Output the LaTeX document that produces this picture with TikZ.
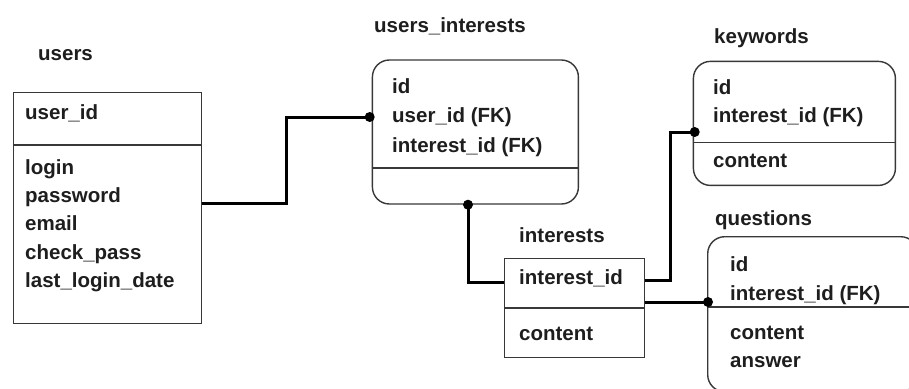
\documentclass[tikz,border=0pt]{standalone}
\usepackage{fontspec}
\setmainfont{Liberation Sans}
\usetikzlibrary{calc}
\definecolor{ink}{HTML}{1E1E1E}
\definecolor{edge}{HTML}{383838}
\begin{document}
\begin{tikzpicture}[x=1pt,y=-1pt,
  txt/.style={anchor=base west,inner sep=0pt,text=ink,font=\fontsize{20.5}{24}\selectfont\bfseries},
  sqbox/.style={draw=edge,line width=1.4pt,rectangle,anchor=north west,inner sep=0pt},
  rdbox/.style={sqbox,rounded corners=17pt},
  divider/.style={draw=edge,line width=1.4pt},
  conn/.style={draw=black,line width=3pt},
  dotend/.style={fill=black}]
\useasboundingbox (0,0) rectangle (909,388);
\clip (0,0) rectangle (909,388);
\fill[white] (0,0) rectangle (909,388);

% boxes
\node[sqbox,minimum width=188pt,minimum height=231pt] (users) at (12.7,91.7) {};
\node[rdbox,minimum width=206pt,minimum height=144pt] (ui) at (371.7,59.3) {};
\node[sqbox,minimum width=140pt,minimum height=99pt] (interests) at (504,258) {};
\node[rdbox,minimum width=202pt,minimum height=124pt] (keywords) at (692.7,60.7) {};
\node[rdbox,minimum width=210pt,minimum height=155pt] (questions) at (707,236) {};

% dividers
\draw[divider] (users.west |- 0,145) -- (users.east |- 0,145);
\draw[divider] (ui.west |- 0,168) -- (ui.east |- 0,168);
\draw[divider] (interests.west |- 0,308) -- (interests.east |- 0,308);
\draw[divider] (keywords.west |- 0,142.7) -- (keywords.east |- 0,142.7);
\draw[divider] (questions.west |- 0,307) -- (questions.east |- 0,307);

% titles
\node[txt] (lusers) at (38,60) {users};
\node[txt] (lui) at (374,32) {users\_interests};
\node[txt] (lint) at (519,242) {interests};
\node[txt] (lkw) at (714,43) {keywords};
\node[txt] (lq) at (715,225) {questions};

% users fields
\node[txt] (u1) at (25,119) {user\_id};
\node[txt] (u2) at (25,174) {login};
\node[txt] (u3) at (25,202) {password};
\node[txt] (u4) at (25,230) {email};
\node[txt] (u5) at (25,259) {check\_pass};
\node[txt] (u6) at (25,287) {last\_login\_date};

% users_interests fields
\node[txt] (ui1) at (392,93) {id};
\node[txt] (ui2) at (392,122) {user\_id (FK)};
\node[txt] (ui3) at (392,152) {interest\_id (FK)};

% interests fields
\node[txt] (i1) at (519,284) {interest\_id};
\node[txt] (i2) at (519,340) {content};

% keywords fields
\node[txt] (k1) at (713,94) {id};
\node[txt] (k2) at (713,122) {interest\_id (FK)};
\node[txt] (k3) at (713,167) {content};

% questions fields
\node[txt] (q1) at (730,271) {id};
\node[txt] (q2) at (730,300) {interest\_id (FK)};
\node[txt] (q3) at (730,339) {content};
\node[txt] (q4) at (730,367) {answer};

% connectors
\coordinate (e1) at (ui.west |- 0,117);
\draw[conn] (users.east |- 0,203) -| (286,160) |- (e1);
\fill[dotend] ($(e1)+(-2,0)$) circle (5pt);

\coordinate (e2) at (ui.south -| 468,0);
\draw[conn] (e2) |- (interests.west |- 0,282);
\fill[dotend] (e2) circle (5pt);

\coordinate (e3) at (keywords.west |- 0,132);
\draw[conn] (interests.east |- 0,280) -| (670,200) |- (e3);
\fill[dotend] ($(e3)+(2,0)$) circle (5pt);

\coordinate (e4) at (questions.west |- 0,302);
\draw[conn] (interests.east |- 0,302) -- (e4);
\fill[dotend] ($(e4)+(1,0)$) circle (5pt);
\end{tikzpicture}
\end{document}
